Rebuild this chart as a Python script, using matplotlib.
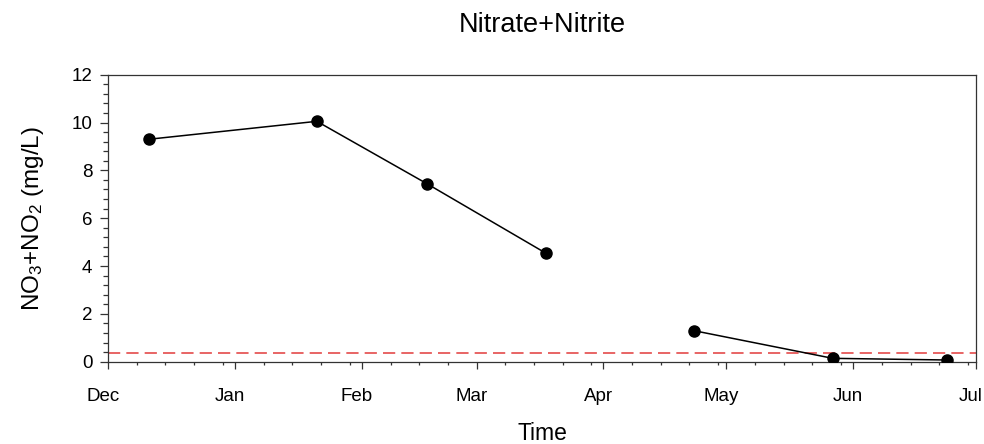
import numpy as np
import pandas as pd
import matplotlib
matplotlib.use('Agg')
import matplotlib.pyplot as plt
import matplotlib.dates as mdates
from matplotlib.ticker import MultipleLocator
from matplotlib.transforms import ScaledTranslation

plt.rcParams['font.family'] = ['Liberation Sans', 'DejaVu Sans']
plt.rcParams['mathtext.fontset'] = 'custom'
plt.rcParams['mathtext.rm'] = 'Liberation Sans'
plt.rcParams['mathtext.default'] = 'regular'

# sampling dates and NO3+NO2 concentrations (mg/L)
dates_winter = ['2000-12-11', '2001-01-21', '2001-02-17', '2001-03-18']
values_winter = [9.3, 10.05, 7.43, 4.53]
dates_summer = ['2001-04-23', '2001-05-27', '2001-06-24']
values_summer = [1.30, 0.14, 0.07]
detection_limit = 0.35

fig = plt.figure(figsize=(9.84, 4.44), dpi=100)
ax = fig.add_axes([0.1098, 0.1854, 0.8821, 0.6464])

for d, v in [(dates_winter, values_winter), (dates_summer, values_summer)]:
    ax.plot(pd.to_datetime(d), v, '-', color='black', lw=1.1,
            marker='o', markersize=8, markerfacecolor='black', zorder=3)

ax.axhline(detection_limit, color='#e23a3a', lw=1.1, dashes=(8, 4), zorder=2)

ax.set_xlim(pd.Timestamp('2000-12-01'), pd.Timestamp('2001-07-01'))
ax.set_ylim(0, 12)

ax.xaxis.set_major_locator(mdates.MonthLocator())
ax.xaxis.set_major_formatter(mdates.DateFormatter('%b'))
ax.xaxis.set_minor_locator(mdates.DayLocator(bymonthday=[8, 15, 22, 29]))
ax.yaxis.set_major_locator(MultipleLocator(2))
ax.yaxis.set_minor_locator(MultipleLocator(0.4))

ax.tick_params(which='both', direction='out', top=False, right=False,
               labelsize=13.5, color='#333333', width=0.9)
ax.tick_params(axis='x', which='major', length=5, pad=14)
ax.tick_params(axis='x', which='minor', length=2.5)
ax.tick_params(axis='y', which='major', length=5.8, pad=5.5)
ax.tick_params(axis='y', which='minor', length=3.5)

# month labels sit a little left of their ticks
shift = ScaledTranslation(-5 / 100, 0, fig.dpi_scale_trans)
for lbl in ax.get_xticklabels():
    lbl.set_transform(lbl.get_transform() + shift)

for s in ax.spines.values():
    s.set_color('#333333')
    s.set_linewidth(0.9)

ax.set_title('Nitrate+Nitrite', fontsize=19.5, pad=31)
ax.set_xlabel('Time', fontsize=16.5, labelpad=12)
ax.set_ylabel('NO$_3$+NO$_2$ (mg/L)', fontsize=17.5, labelpad=18)

fig.savefig('out.png', dpi=100)
